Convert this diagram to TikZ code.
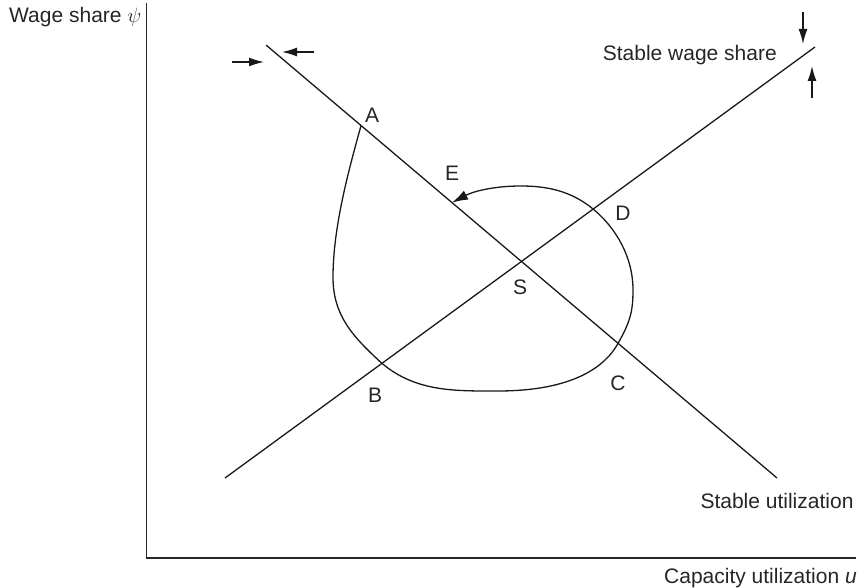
\documentclass[tikz,border=0pt]{standalone}
\usepackage{fontspec}
\setmainfont{Liberation Sans}
\usetikzlibrary{arrows.meta,calc}
\begin{document}
\begin{tikzpicture}[x=1pt,y=1pt,
  lab/.style={font=\fontsize{21}{25}\selectfont, inner sep=0pt, text=black!85},
  ln/.style={line width=1.3pt, black!90},
  tip/.style={-{Latex[length=15pt,width=9pt]}, line width=1.4pt, black!90}]
\useasboundingbox (0,0) rectangle (858,587);
% axes
\coordinate (yt) at (146.5,584);
\coordinate (o) at (146.5,29);
\coordinate (xr) at (856,29);
\draw[line width=1.4pt, black!85] (yt) -- (o) -- (xr);
% lines
\coordinate (d1) at (266,542);
\coordinate (d2) at (777,109);
\coordinate (a1) at (225,109);
\coordinate (a2) at (815,540);
\draw[ln] (d1) -- (d2);
\draw[ln] (a1) -- (a2);
% points on lines
\coordinate (A) at ($(d1)!0.186!(d2)$);
\coordinate (E) at ($(d1)!0.364!(d2)$);
\coordinate (C) at ($(d1)!0.689!(d2)$);
\coordinate (B) at ($(a1)!0.266!(a2)$);
\coordinate (D) at ($(a1)!0.624!(a2)$);
\coordinate (L) at (333,310);
\coordinate (Bot) at (498,196);
\coordinate (R) at (633,297);
\coordinate (Top) at (521,401);
% cycle curve
\draw[ln, -{Latex[length=16pt,width=10pt]}]
  (A) .. controls (349,418) and (333,360) .. (L)
      .. controls (333,272) and (352,251) .. (B)
      .. controls (416,195) and (455,196) .. (Bot)
      .. controls (550,196) and (598,208) .. (C)
      .. controls (630,265) and (633,275) .. (R)
      .. controls (633,330) and (616,359) .. (D)
      .. controls (570,397) and (545,401) .. (Top)
      .. controls (495,401) and (474,396) .. (E);
% small arrows
\coordinate (r1) at (232,525); \coordinate (r2) at (264,525);
\coordinate (l1) at (314,535); \coordinate (l2) at (282,535);
\coordinate (dn1) at (803,575); \coordinate (dn2) at (803,543);
\coordinate (up1) at (812,489); \coordinate (up2) at (812,521);
\draw[tip] (r1) -- (r2);
\draw[tip] (l1) -- (l2);
\draw[tip] (dn1) -- (dn2);
\draw[tip] (up1) -- (up2);
% labels
\node[lab] (lA) at (372,472) {A};
\node[lab] (lE) at (452,414) {E};
\node[lab] (lD) at (623,374) {D};
\node[lab] (lS) at (520,300) {S};
\node[lab] (lB) at (375,192) {B};
\node[lab] (lC) at (618,204) {C};
\node[lab, anchor=base east] (sws) at (777,526) {Stable wage share};
\node[lab, anchor=base] (su) at (777,79) {Stable utilization};
\node[lab, anchor=base east] (cu) at (857,4) {Capacity utilization \textit{u}};
\node[lab, anchor=base west] (ws) at (9,564) {Wage share $\psi$};
\end{tikzpicture}
\end{document}
